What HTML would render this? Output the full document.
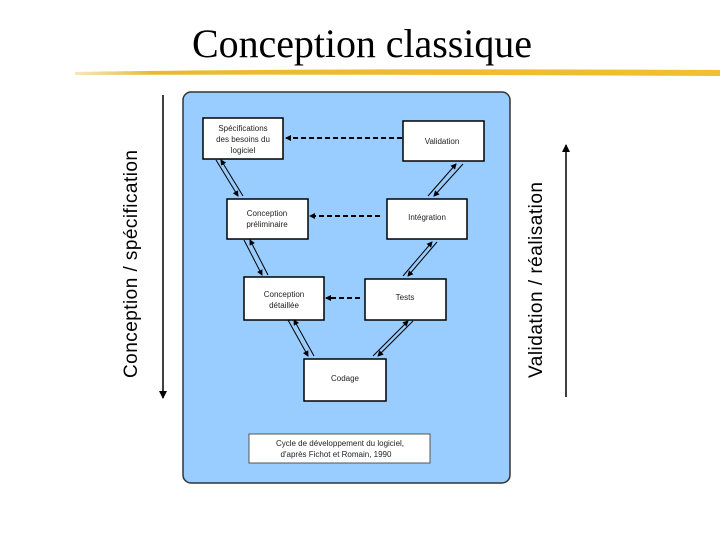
<!DOCTYPE html>
<html><head><meta charset="utf-8"><style>
body{margin:0;background:#fff;width:720px;height:540px;overflow:hidden;font-family:"Liberation Sans",sans-serif}
</style></head><body>
<svg width="720" height="540" viewBox="0 0 720 540" xmlns="http://www.w3.org/2000/svg">
<defs>
<marker id="a" markerWidth="8" markerHeight="8" refX="7" refY="4" orient="auto" markerUnits="userSpaceOnUse"><path d="M0,0 L8,4 L0,8 z" fill="#000"/></marker>
<marker id="s" markerWidth="6" markerHeight="6" refX="5" refY="3" orient="auto" markerUnits="userSpaceOnUse"><path d="M0,0 L6,3 L0,6 z" fill="#000"/></marker>
<linearGradient id="g" x1="0" x2="1"><stop offset="0" stop-color="#e8c060" stop-opacity="0.4"/><stop offset="0.12" stop-color="#ecb830"/><stop offset="1" stop-color="#f0c030"/></linearGradient>
</defs>
<text x="362" y="57" text-anchor="middle" font-family="Liberation Serif,serif" font-size="40" textLength="340">Conception classique</text>
<path d="M75,72 Q300,68 720,70 L720,76 Q300,74 75,75 z" fill="url(#g)"/>
<rect x="183" y="92" width="327" height="391" rx="8" fill="#99ccff" stroke="#333" stroke-width="1.5"/>
<g fill="#fff" stroke="#000" stroke-width="1.5">
<rect x="203" y="118" width="80" height="41"/>
<rect x="403" y="121" width="81" height="40"/>
<rect x="227" y="199" width="81" height="40"/>
<rect x="387" y="199" width="80" height="40"/>
<rect x="244" y="277" width="80" height="43"/>
<rect x="365" y="279" width="81" height="41"/>
<rect x="304" y="359" width="82" height="42"/>
<rect x="249" y="434" width="181" height="29" stroke="#555" stroke-width="1"/>
</g>
<g font-size="8" fill="#222" text-anchor="middle">
<text x="243" y="131">Spécifications</text><text x="243" y="142">des besoins du</text><text x="243" y="153">logiciel</text>
<text x="442" y="144">Validation</text>
<text x="267" y="216">Conception</text><text x="267" y="227">préliminaire</text>
<text x="427" y="220">Intégration</text>
<text x="284" y="297">Conception</text><text x="284" y="308">détaillée</text>
<text x="405" y="300">Tests</text>
<text x="345" y="381">Codage</text>
<text x="340" y="446">Cycle de développement du logiciel,</text><text x="336" y="457">d'après Fichot et Romain, 1990</text>
</g>
<g stroke="#000" stroke-width="2" stroke-dasharray="5,3" fill="none">
<line x1="402" y1="138" x2="286" y2="138" marker-end="url(#s)"/>
<line x1="380" y1="216" x2="310" y2="216" marker-end="url(#s)"/>
<line x1="360" y1="298" x2="326" y2="298" marker-end="url(#s)"/>
</g>
<g stroke="#000" stroke-width="1" fill="none">
<line x1="216" y1="160" x2="238" y2="196" marker-end="url(#s)"/><line x1="243" y1="196" x2="221" y2="160" marker-end="url(#s)"/>
<line x1="244" y1="240" x2="262" y2="275" marker-end="url(#s)"/><line x1="268" y1="275" x2="250" y2="240" marker-end="url(#s)"/>
<line x1="288" y1="320" x2="308" y2="356" marker-end="url(#s)"/><line x1="314" y1="356" x2="294" y2="320" marker-end="url(#s)"/>
<line x1="373" y1="356" x2="408" y2="321" marker-end="url(#s)"/><line x1="413" y1="321" x2="378" y2="356" marker-end="url(#s)"/>
<line x1="403" y1="276" x2="432" y2="242" marker-end="url(#s)"/><line x1="437" y1="242" x2="408" y2="276" marker-end="url(#s)"/>
<line x1="428" y1="196" x2="456" y2="164" marker-end="url(#s)"/><line x1="463" y1="164" x2="434" y2="196" marker-end="url(#s)"/>
</g>
<line x1="163" y1="95" x2="163" y2="398" stroke="#000" stroke-width="1.5" marker-end="url(#a)"/>
<line x1="566" y1="397" x2="566" y2="145" stroke="#000" stroke-width="1.5" marker-end="url(#a)"/>
<text transform="translate(137,264) rotate(-90)" text-anchor="middle" font-size="19" textLength="228">Conception / spécification</text>
<text transform="translate(542,280) rotate(-90)" text-anchor="middle" font-size="19" textLength="196">Validation / réalisation</text>
</svg>
</body></html>
